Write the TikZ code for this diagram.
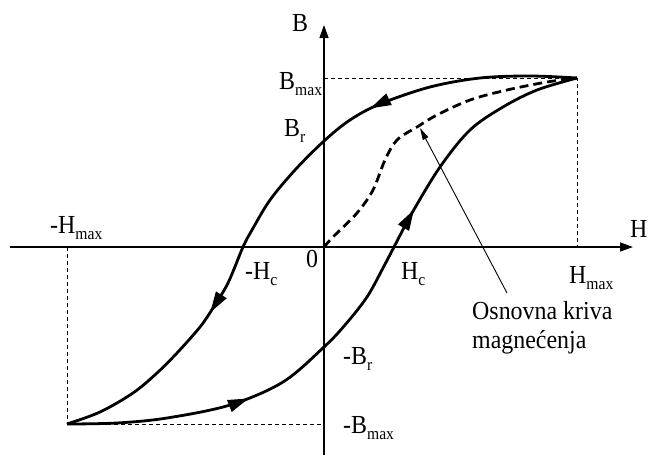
\documentclass[tikz,border=0pt]{standalone}
\usepackage{fontspec}
\setmainfont[FakeStretch=0.92]{Liberation Serif}
\usetikzlibrary{arrows.meta,decorations.markings}
\newcommand\lsub[1]{\raisebox{-6pt}{\fontsize{17}{17}\selectfont #1}}
\begin{document}
\begin{tikzpicture}[x=1pt,y=-1pt,
  axis/.style={line width=1.3pt,-{Triangle[length=13pt,width=9pt]}},
  guide/.style={line width=0.9pt,dash pattern=on 4pt off 3pt},
  branch/.style={line width=2.8pt,line join=round},
  virgin/.style={line width=2.8pt,dash pattern=on 9pt off 5pt},
  lbl/.style={font=\fontsize{26}{30}\selectfont,inner sep=0pt,anchor=base west},
  pointer/.style={line width=0.9pt,-{Triangle[length=12pt,width=6pt]}},
  midarrow/.style={postaction={decorate},decoration={markings,mark=at position #1 with {\arrow{Triangle[length=21pt,width=12pt]}}}},
]
\useasboundingbox (0,0) rectangle (648,455);
% axes
\coordinate (hstart) at (10,247);
\coordinate (hend) at (633,247);
\coordinate (bstart) at (324,455);
\coordinate (bend) at (324,25);
\draw[axis] (hstart) -- (hend);
\draw[axis] (bstart) -- (bend);
% guide lines
\coordinate (tr) at (577,78);
\coordinate (bl) at (67,424);
\coordinate (bmaxax) at (324,78);
\coordinate (hmaxax) at (577,247);
\coordinate (mhmaxax) at (67,247);
\coordinate (mbmaxax) at (324,424);
\draw[guide] (bmaxax) -- (tr) -- (hmaxax);
\draw[guide] (mhmaxax) -- (bl) -- (mbmaxax);
% descending branch
\draw[branch,midarrow=0.32] plot[smooth,tension=0.55] coordinates {
 (577,78) (530,76) (480,78) (430,87) (380,104) (350,120) (324,141) (295,170)
 (270,200) (252,230) (243,247) (228,283) (213,308) (200,327) (177,353)
 (157,373) (133,393) (100,412) (67,424)};
% ascending branch
\draw[branch,midarrow=0.28] plot[smooth,tension=0.55] coordinates {
 (67,424) (117,423) (167,418) (230,405) (283,382) (324,347) (345,325)
 (367,297) (383,268) (394,247) (412,213) (440,167) (470,130) (503,107)
 (537,90) (577,78)};
\draw[branch,midarrow=0.67,draw=none] plot[smooth,tension=0.55] coordinates {
 (67,424) (117,423) (167,418) (230,405) (283,382) (324,347) (345,325)
 (367,297) (383,268) (394,247) (412,213) (440,167) (470,130) (503,107)
 (537,90) (577,78)};
\draw[branch,midarrow=0.72,draw=none] plot[smooth,tension=0.55] coordinates {
 (577,78) (530,76) (480,78) (430,87) (380,104) (350,120) (324,141) (295,170)
 (270,200) (252,230) (243,247) (228,283) (213,308) (200,327) (177,353)
 (157,373) (133,393) (100,412) (67,424)};
% initial magnetization curve
\draw[virgin] plot[smooth,tension=0.55] coordinates {
 (324,247) (333,237) (357,213) (373,190) (385,160) (397,140) (417,127)
 (437,115) (470,100) (507,90) (547,82) (577,78)};
% labels
\node[lbl] (lB) at (292,31) {B};
\node[lbl] (lH) at (630,237) {H};
\node[lbl] (lBmax) at (279,89) {B\lsub{max}};
\node[lbl] (lBr) at (284,136) {B\lsub{r}};
\node[lbl] (lmHmax) at (50,233) {-H\lsub{max}};
\node[lbl] (lmHc) at (245,279) {-H\lsub{c}};
\node[lbl] (lzero) at (306,267) {0};
\node[lbl] (lHc) at (401,279) {H\lsub{c}};
\node[lbl] (lHmax) at (569,283) {H\lsub{max}};
\node[lbl] (lmBr) at (343,364) {-B\lsub{r}};
\node[lbl] (lmBmax) at (343,433) {-B\lsub{max}};
\node[lbl] (lOsn1) at (472,319) {Osnovna kriva};
\node[lbl] (lOsn2) at (472,348) {magnećenja};
% pointer
\coordinate (ps) at (507,293);
\coordinate (pt) at (420,128);
\draw[pointer] (ps) -- (pt);
\end{tikzpicture}
\end{document}
